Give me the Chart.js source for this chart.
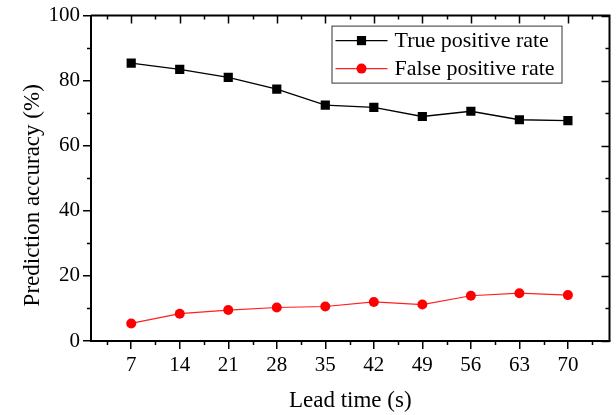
<!DOCTYPE html>
<html>
<head>
<meta charset="utf-8">
<script src="https://cdn.jsdelivr.net/npm/chart.js@4.4.0/dist/chart.umd.min.js"></script>
<style>
  html, body { margin: 0; padding: 0; background: #fff; }
  #wrap { width: 616px; height: 415px; }
</style>
</head>
<body>
<div id="wrap"><canvas id="accChart"></canvas></div>
<script>
// data
const leadTime = [7, 14, 21, 28, 35, 42, 49, 56, 63, 70]
const truePositive = [85.4, 83.5, 81.0, 77.4, 72.5, 71.8, 69.0, 70.6, 68.0, 67.7]
const falsePositive = [5.4, 8.4, 9.5, 10.3, 10.6, 12.0, 11.2, 13.9, 14.7, 14.1]
const yTicks = [0, 20, 40, 60, 80, 100]
const yTitle = 'Prediction accuracy (%)'

const serif = 'Liberation Serif'

function toPoints(ys){
    return leadTime.map((x, i) => ({x: x, y: ys[i]}))
}

// mirrored ticks, minor ticks, top/right frame, y title and the legend
const framePlugin = {
    id: 'frame',
    afterDraw(chart){
        const ctx = chart.ctx
        const a = chart.chartArea
        const xs = chart.scales.x
        const ys = chart.scales.y
        ctx.save()
        ctx.strokeStyle = '#000'

        // top and right borders
        ctx.lineWidth = 2
        ctx.beginPath()
        ctx.moveTo(a.left, a.top)
        ctx.lineTo(a.right, a.top)
        ctx.lineTo(a.right, a.bottom)
        ctx.stroke()

        const xMaj = leadTime
        const xMin = xMaj.map(v => v - 3.5).concat([xMaj[xMaj.length - 1] + 3.5])
            .filter(v => v > xs.min && v < xs.max)
        const yMaj = yTicks
        const yMin = yMaj.slice(1).map(v => v - 10)

        ctx.lineWidth = 1.5
        ctx.beginPath()
        xMaj.forEach(v => {
            const px = Math.round(xs.getPixelForValue(v)) + 0.5
            ctx.moveTo(px, a.top); ctx.lineTo(px, a.top + 8)
        })
        xMin.forEach(v => {
            const px = Math.round(xs.getPixelForValue(v)) + 0.5
            ctx.moveTo(px, a.top); ctx.lineTo(px, a.top + 4)
            ctx.moveTo(px, a.bottom); ctx.lineTo(px, a.bottom + 4)
        })
        yMaj.forEach(v => {
            const py = Math.round(ys.getPixelForValue(v)) + 0.5
            ctx.moveTo(a.right, py); ctx.lineTo(a.right - 8, py)
        })
        yMin.forEach(v => {
            const py = Math.round(ys.getPixelForValue(v)) + 0.5
            ctx.moveTo(a.right, py); ctx.lineTo(a.right - 4, py)
            ctx.moveTo(a.left, py); ctx.lineTo(a.left - 4, py)
        })
        ctx.stroke()

        // y axis title, sits a little below the middle like the original
        ctx.save()
        ctx.translate(33, (a.top + a.bottom) / 2 + 17)
        ctx.rotate(-Math.PI / 2)
        ctx.fillStyle = '#000'
        ctx.font = '23px "' + serif + '"'
        ctx.textAlign = 'center'
        ctx.textBaseline = 'middle'
        ctx.fillText(yTitle, 0, 0)
        ctx.restore()

        // legend
        const lx = a.right - 278, ly = a.top + 10, lw = 230, lh = 57
        ctx.fillStyle = '#fff'
        ctx.fillRect(lx, ly, lw, lh)
        ctx.lineWidth = 1
        ctx.strokeStyle = '#333'
        ctx.strokeRect(lx + 0.5, ly + 0.5, lw, lh)

        chart.data.datasets.forEach((ds, i) => {
            const rowY = ly + 15 + i * 28
            ctx.strokeStyle = ds.borderColor
            ctx.lineWidth = ds.borderWidth
            ctx.beginPath()
            ctx.moveTo(lx + 4, rowY)
            ctx.lineTo(lx + 56, rowY)
            ctx.stroke()
            ctx.fillStyle = ds.pointBackgroundColor
            Chart.helpers.drawPoint(ctx, {pointStyle: ds.pointStyle, radius: ds.pointRadius, rotation: 0, borderWidth: 0}, lx + 30, rowY)
            ctx.fillStyle = '#000'
            ctx.font = '22px "' + serif + '"'
            ctx.textBaseline = 'middle'
            ctx.textAlign = 'left'
            ctx.fillText(ds.label, lx + 63, rowY + 1)
        })
        ctx.restore()
    }
}

const ctx = document.getElementById('accChart').getContext('2d')
const accChart = new Chart(ctx, {
    type: 'line',
    data: {
        datasets: [{
            label: 'True positive rate',
            data: toPoints(truePositive),
            borderColor: '#000',
            backgroundColor: '#000',
            pointBackgroundColor: '#000',
            pointBorderColor: '#000',
            pointStyle: 'rect',
            pointRadius: 6.5,
            pointBorderWidth: 0,
            borderWidth: 1.3,
            tension: 0
        }, {
            label: 'False positive rate',
            data: toPoints(falsePositive),
            borderColor: '#ff2020',
            backgroundColor: '#ff0000',
            pointBackgroundColor: '#ff0000',
            pointBorderColor: '#ff0000',
            pointStyle: 'circle',
            pointRadius: 5,
            pointBorderWidth: 0,
            borderWidth: 1.2,
            tension: 0
        }]
    },
    options: {
        responsive: true,
        maintainAspectRatio: false,
        animation: false,
        layout: { padding: { top: 13, right: 5, left: 0, bottom: 0 } },
        plugins: {
            legend: { display: false },
            tooltip: { enabled: false }
        },
        scales: {
            x: {
                type: 'linear',
                min: 1.2,
                max: 76,
                afterBuildTicks: scale => { scale.ticks = leadTime.map(v => ({value: v})) },
                afterFit: scale => { scale.height = 74 },
                ticks: {
                    color: '#000',
                    font: { family: serif, size: 21 },
                    padding: 4,
                    maxRotation: 0,
                    autoSkip: false
                },
                grid: {
                    display: true,
                    drawOnChartArea: false,
                    drawTicks: true,
                    tickLength: 8,
                    color: '#000',
                    lineWidth: 1.5
                },
                border: { display: true, color: '#000', width: 2 },
                title: {
                    display: true,
                    text: 'Lead time (s)',
                    color: '#000',
                    font: { family: serif, size: 23 },
                    padding: { top: 2, bottom: 0 }
                }
            },
            y: {
                min: 0,
                max: 100,
                afterBuildTicks: scale => { scale.ticks = yTicks.map(v => ({value: v})) },
                afterFit: scale => { scale.width = 91 },
                ticks: {
                    color: '#000',
                    font: { family: serif, size: 21 },
                    padding: 3
                },
                grid: {
                    display: true,
                    drawOnChartArea: false,
                    drawTicks: true,
                    tickLength: 8,
                    color: '#000',
                    lineWidth: 1.5
                },
                border: { display: true, color: '#000', width: 2 },
                title: { display: false }
            }
        }
    },
    plugins: [framePlugin]
})
</script>
</body>
</html>
